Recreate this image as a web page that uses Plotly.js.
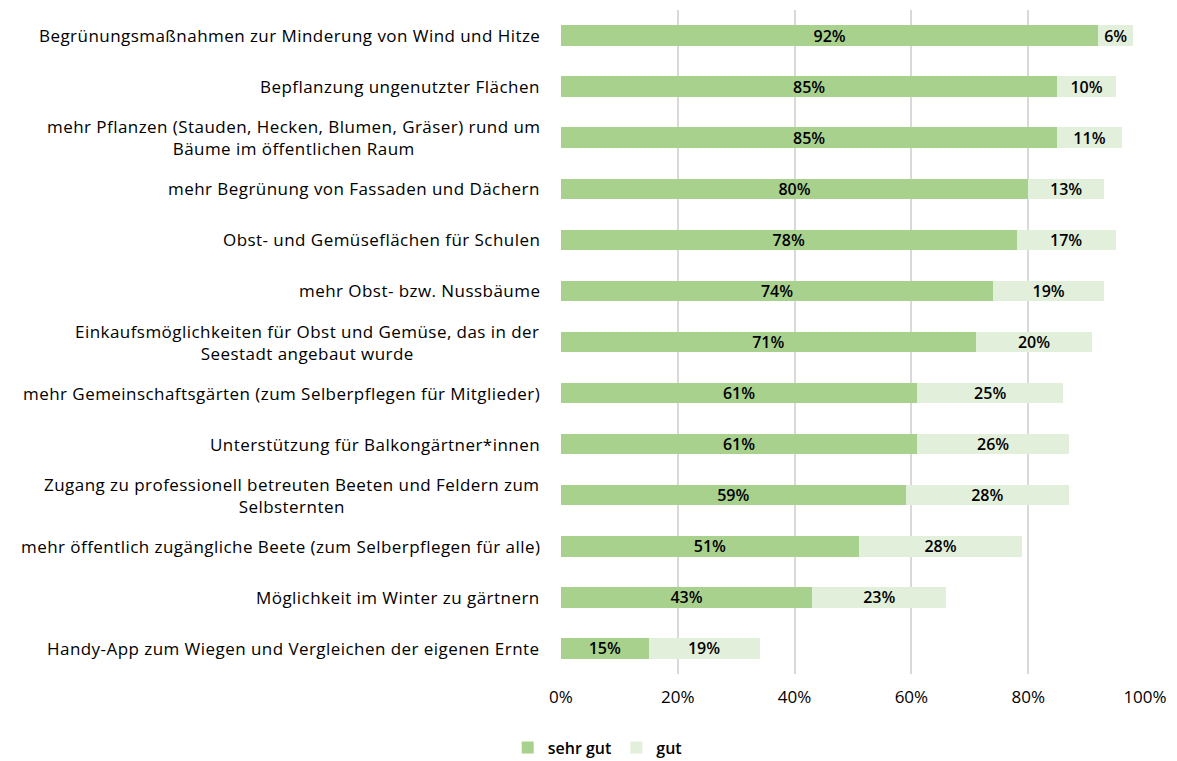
<!DOCTYPE html>
<html>
<head>
<meta charset="utf-8">
<script src="https://cdn.plot.ly/plotly-3.0.1.min.js"></script>
<style>
html,body{margin:0;padding:0;background:#fff;}
#chart{width:1177px;height:761px;}
.annotation-text{letter-spacing:0.45px;}
</style>
</head>
<body>
<div id="chart"></div>
<script>
const categories = [
  "Begrünungsmaßnahmen zur Minderung von Wind und Hitze",
  "Bepflanzung ungenutzter Flächen",
  "mehr Pflanzen (Stauden, Hecken, Blumen, Gräser) rund um<br>Bäume im öffentlichen Raum",
  "mehr Begrünung von Fassaden und Dächern",
  "Obst- und Gemüseflächen für Schulen",
  "mehr Obst- bzw. Nussbäume",
  "Einkaufsmöglichkeiten für Obst und Gemüse, das in der<br>Seestadt angebaut wurde",
  "mehr Gemeinschaftsgärten (zum Selberpflegen für Mitglieder)",
  "Unterstützung für Balkongärtner*innen",
  "Zugang zu professionell betreuten Beeten und Feldern zum<br>Selbsternten",
  "mehr öffentlich zugängliche Beete (zum Selberpflegen für alle)",
  "Möglichkeit im Winter zu gärtnern",
  "Handy-App zum Wiegen und Vergleichen der eigenen Ernte"
];
const sehrGut = [0.92, 0.85, 0.85, 0.80, 0.78, 0.74, 0.71, 0.61, 0.61, 0.59, 0.51, 0.43, 0.15];
const gut     = [0.06, 0.10, 0.11, 0.13, 0.17, 0.19, 0.20, 0.25, 0.26, 0.28, 0.28, 0.23, 0.19];
const seriesNames = ["sehr gut", "gut"];
const tickVals = [0, 0.2, 0.4, 0.6, 0.8, 1.0];
const tickLabels = ["0%", "20%", "40%", "60%", "80%", "100%"];

const FONT = "'Open Sans', Lato, sans-serif";
const ids = categories.map((c, i) => "c" + i);

const mk = (vals, name, color) => ({
  type: "bar", orientation: "h", name: name,
  y: ids, x: vals,
  marker: {color: color},
  texttemplate: "%{x:.0%}", textposition: "inside", insidetextanchor: "middle",
  textfont: {family: FONT, size: 16, color: "#000", weight: 600},
  hoverinfo: "skip"
});

const data = [mk(sehrGut, seriesNames[0], "#a9d18e"), mk(gut, seriesNames[1], "#e2efda")];

const annotations = categories.map((c, i) => ({
  xref: "paper", yref: "y", x: 0, y: ids[i], xanchor: "right", yanchor: "middle",
  xshift: -19, text: c, showarrow: false, align: "center",
  font: {family: FONT, size: 17, color: "#000"}
}));

const layout = {
  width: 1177, height: 761,
  margin: {l: 561, r: 32, t: 10, b: 87, autoexpand: false},
  barmode: "stack", bargap: 0.6,
  paper_bgcolor: "#fff", plot_bgcolor: "#fff",
  showlegend: true,
  legend: {orientation: "h", x: 0.062, xanchor: "center", y: -0.111, yanchor: "middle",
           font: {family: FONT, size: 16, color: "#000", weight: 600}, traceorder: "normal"},
  xaxis: {range: [0, 1.0], tickvals: tickVals, ticktext: tickLabels,
          showgrid: true, gridcolor: "#d9d9d9", gridwidth: 2, zeroline: false,
          showline: false, ticks: "outside", ticklen: 8, tickcolor: "rgba(0,0,0,0)",
          tickfont: {family: FONT, size: 17, color: "#000"}, fixedrange: true},
  yaxis: {type: "category", autorange: "reversed", showticklabels: false,
          showgrid: false, zeroline: false, showline: false, fixedrange: true},
  annotations: annotations,
  uniformtext: {mode: "show", minsize: 16}
};
Plotly.newPlot("chart", data, layout, {displayModeBar: false, staticPlot: true});
</script>
</body>
</html>
